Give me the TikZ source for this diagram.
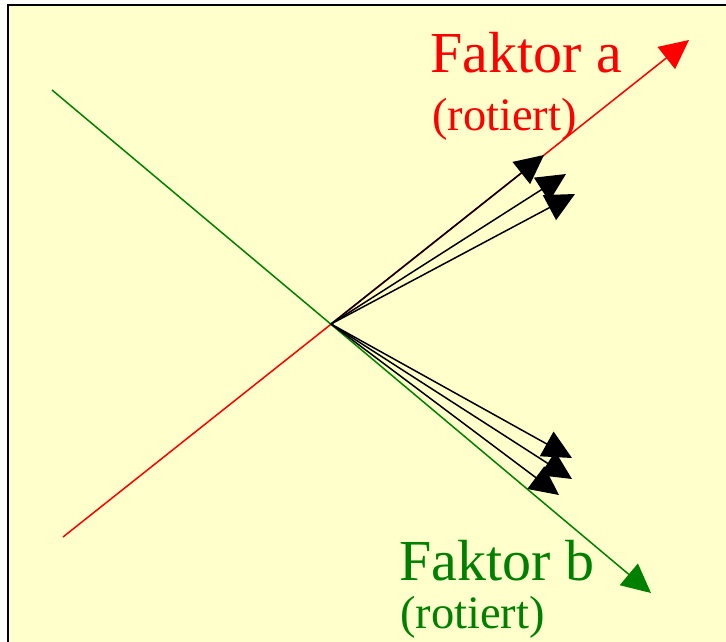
\documentclass[tikz,border=0pt]{standalone}
\usepackage{fontspec}
\setmainfont{Liberation Serif}
\usetikzlibrary{arrows.meta}
\definecolor{bgyellow}{RGB}{255,255,204}
\definecolor{fgreen}{RGB}{0,128,0}
\definecolor{fred}{RGB}{255,0,0}
\begin{document}
\begin{tikzpicture}[x=1pt,y=-1pt,
  tip/.style={-{Triangle[length=29pt,width=28pt]}},
  axisline/.style={tip,line width=1.5pt},
  loadarrow/.style={tip,black,line width=1.5pt},
  bigtext/.style={anchor=base west,inner sep=0pt,font=\fontsize{58}{62}\selectfont},
  smalltext/.style={anchor=base west,inner sep=0pt,font=\fontsize{46.5}{50}\selectfont}]
\useasboundingbox (0,0) rectangle (726,642);
\fill[white] (0,0) rectangle (726,642);
\fill[bgyellow] (8,5) rectangle (726,642);
\draw[line width=2.5pt] (8,642) -- (8,5) -- (726,5);

\coordinate (O) at (331,324);
\coordinate (rs) at (63,537);
\coordinate (re) at (689,40);
\coordinate (gs) at (52,90);
\coordinate (ge) at (651,593);
\coordinate (u1) at (544,155);
\coordinate (u2) at (566,174);
\coordinate (u3) at (575,194);
\coordinate (l1) at (572,458);
\coordinate (l2) at (572,479);
\coordinate (l3) at (559,495);

\draw[axisline,fred] (rs) -- (re);
\draw[axisline,fgreen] (gs) -- (ge);

\draw[loadarrow] (O) -- (u1);
\draw[loadarrow] (O) -- (u2);
\draw[loadarrow] (O) -- (u3);
\draw[loadarrow] (O) -- (l1);
\draw[loadarrow] (O) -- (l2);
\draw[loadarrow] (O) -- (l3);

\node[bigtext,text=fred] (fa) at (430,73) {Faktor a};
\node[smalltext,text=fred] (ra) at (432,130) {(rotiert)};
\node[bigtext,text=fgreen] (fb) at (399,580) {Faktor b};
\node[smalltext,text=fgreen] (rb) at (400,628) {(rotiert)};
\end{tikzpicture}
\end{document}
